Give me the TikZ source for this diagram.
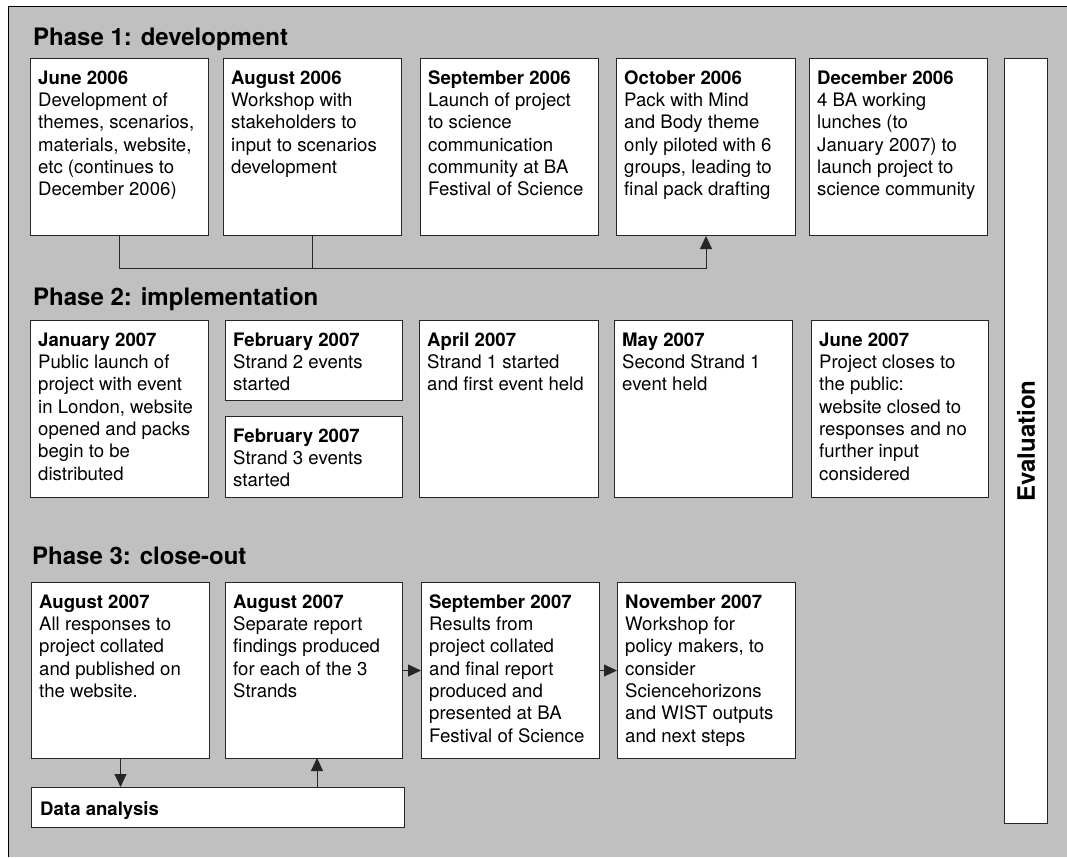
\documentclass[tikz,border=0pt]{standalone}
\usepackage{fontspec}
\setmainfont{TeX Gyre Heros}
\usetikzlibrary{arrows.meta}
\definecolor{bggray}{RGB}{192,192,192}
\newcommand\tbox[6]{%
  \node[box,minimum width={#4-#2},minimum height={#5-#3}] (#1) at (#2,#3) {};
  \node[txt] (#1t) at (#2+8,#3+12) {\rule{0pt}{14pt}#6};}
\begin{document}
\begin{tikzpicture}[x=1pt,y=-1pt,
  box/.style={draw=black!85,line width=1pt,fill=white,inner sep=0pt,anchor=north west},
  txt/.style={anchor=north west,inner sep=0pt,align=left,font=\fontsize{18.6}{22.3}\selectfont},
  phase/.style={anchor=base west,inner sep=0pt,font=\fontsize{24}{28}\selectfont\bfseries},
  conn/.style={draw=black!85,line width=0.9pt},
  arr/.style={conn,-{Triangle[length=13pt,width=12pt]}}]
\useasboundingbox (0,0) rectangle (1067,857);
\fill[bggray] (8,6) rectangle (1067,857);
\draw[line width=1pt] (8,857) -- (8,6) -- (1067,6);

% Phase 1
\node[phase] (p1) at (33,45) {Phase 1: development};
\tbox{a1}{30}{58}{208}{235}{\textbf{June 2006}\\Development of\\themes, scenarios,\\materials, website,\\etc (continues to\\December 2006)}
\tbox{a2}{223}{58}{401}{235}{\textbf{August 2006}\\Workshop with\\stakeholders to\\input to scenarios\\development}
\tbox{a3}{420}{58}{598}{235}{\textbf{September 2006}\\Launch of project\\to science\\communication\\community at BA\\Festival of Science}
\tbox{a4}{616}{58}{795}{235}{\textbf{October 2006}\\Pack with Mind\\and Body theme\\only piloted with 6\\groups, leading to\\final pack drafting}
\tbox{a5}{809}{58}{987}{235}{\textbf{December 2006}\\4 BA working\\lunches (to\\January 2007) to\\launch project to\\science community}
\draw[arr] (a1.south) -- ++(0,32) -| (a4.south);
\draw[conn] (a2.south) -- ++(0,32);

% Phase 2
\node[phase] (p2) at (33,305) {Phase 2: implementation};
\tbox{b1}{30}{320}{208}{497}{\textbf{January 2007}\\Public launch of\\project with event\\in London, website\\opened and packs\\begin to be\\distributed}
\tbox{b2}{225}{320}{402}{400}{\textbf{February 2007}\\Strand 2 events\\started}
\tbox{b3}{225}{416}{402}{497}{\textbf{February 2007}\\Strand 3 events\\started}
\tbox{b4}{419}{320}{598}{497}{\textbf{April 2007}\\Strand 1 started\\and first event held}
\tbox{b5}{614}{320}{792}{497}{\textbf{May 2007}\\Second Strand 1\\event held}
\tbox{b6}{811}{320}{988}{497}{\textbf{June 2007}\\Project closes to\\the public:\\website closed to\\responses and no\\further input\\considered}

% Phase 3
\node[phase] (p3) at (32,564) {Phase 3: close-out};
\tbox{c1}{31}{582}{209}{758}{\textbf{August 2007}\\All responses to\\project collated\\and published on\\the website.}
\tbox{c2}{225}{582}{402}{758}{\textbf{August 2007}\\Separate report\\findings produced\\for each of the 3\\Strands}
\tbox{c3}{421}{582}{599}{758}{\textbf{September 2007}\\Results from\\project collated\\and final report\\produced and\\presented at BA\\Festival of Science}
\tbox{c4}{617}{582}{795}{758}{\textbf{November 2007}\\Workshop for\\policy makers, to\\consider\\Sciencehorizons\\and WIST outputs\\and next steps}
\node[box,minimum width=373,minimum height=40] (d) at (31,787) {};
\node[txt,anchor=base west,font=\fontsize{18.6}{22.3}\selectfont\bfseries] (dt) at (40,815) {Data analysis};
\draw[arr] (c1.south) -- (c1.south |- d.north);
\draw[arr] (317,787) -- (317,758);
\draw[arr] (c2.east) -- (c3.west);
\draw[arr] (c3.east) -- (c4.west);

% Evaluation
\node[box,minimum width=43,minimum height=765] (ev) at (1004,58) {};
\node[rotate=90,inner sep=0pt,font=\fontsize{24}{28}\selectfont\bfseries] (evt) at (ev.center) {Evaluation};
\end{tikzpicture}
\end{document}
